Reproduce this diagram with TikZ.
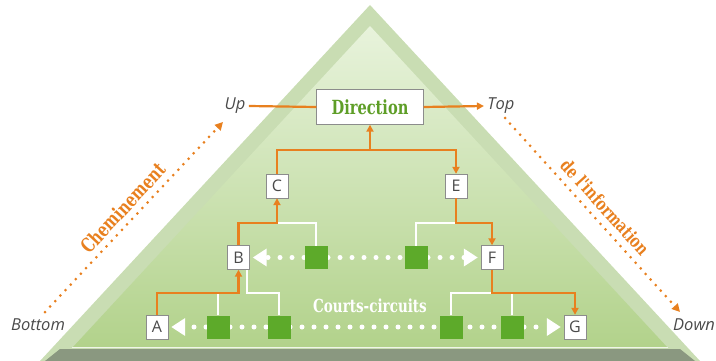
\documentclass[tikz,border=0pt]{standalone}
\usepackage{fontspec}
\setmainfont{Open Sans}
\newfontfamily\slabfont{DejaVu Serif}[FakeStretch=0.75]
\usetikzlibrary{arrows.meta,positioning}
\definecolor{flow}{HTML}{E8801F}
\definecolor{relaygreen}{HTML}{5DAA2A}
\definecolor{dirgreen}{HTML}{5E9E27}
\definecolor{bandgreen}{HTML}{C9DDB3}
\definecolor{filltop}{HTML}{E8F3DC}
\definecolor{fillbot}{HTML}{B2D28B}
\definecolor{basegrey}{HTML}{8A9880}
\definecolor{labelgrey}{HTML}{4A4A4A}
\definecolor{boxgrey}{HTML}{8C8C8C}

\begin{document}
\begin{tikzpicture}[x=1pt, y=-1pt,
  >={Triangle[length=7pt,width=7pt]},
  letter/.style={draw=boxgrey, fill=white, minimum width=22pt, minimum height=24pt,
                 inner sep=0pt, font=\fontsize{16}{16}\selectfont, text=labelgrey},
  relay/.style={fill=relaygreen, minimum size=23pt, inner sep=0pt},
  link/.style={draw=flow, line width=2.2pt},
  wire/.style={draw=white, line width=1.6pt},
  pulse/.style={draw=white, line width=5pt, line cap=round, dash pattern=on 0pt off 12pt},
  trail/.style={draw=flow, line width=3pt, line cap=round, dash pattern=on 0pt off 7.5pt},
  side/.style={font=\itshape\fontsize{16.5}{16.5}\selectfont, text=labelgrey},
  slab/.style={font=\slabfont\bfseries\fontsize{18}{18}\selectfont, text=flow}]
  \useasboundingbox (0,0) rectangle (716,361);

  % pyramid
  \fill[bandgreen] (370,5) -- (40,361) -- (700,361) -- cycle;
  \shade[top color=filltop, bottom color=fillbot] (370,26) -- (73,347) -- (667,347) -- cycle;
  \draw[white!70!bandgreen, line width=1.5pt] (72,347.5) -- (668,347.5);
  \fill[basegrey] (45,361) -- (60,349) -- (680,349) -- (695,361) -- cycle;

  % top
  \node[draw=boxgrey, fill=white, minimum width=107pt, minimum height=35pt,
        font=\slabfont\bfseries\fontsize{19.5}{19.5}\selectfont, text=dirgreen] (direction) at (370,107) {Direction};
  \node[side] (up) at (235,106) {Up};
  \node[side] (top) at (501,106) {Top};
  \node[side] (bottom) at (38,325) {Bottom};
  \node[side] (down) at (694,325) {Down};

  % chain
  \node[letter] (C) at (277,186) {C};
  \node[letter] (E) at (456,186) {E};
  \node[letter] (B) at (238.5,257.5) {B};
  \node[letter] (F) at (492,257.5) {F};
  \node[letter] (A) at (157,327) {A};
  \node[letter] (G) at (575,327) {G};
  \coordinate (lvl1) at (0,293);
  \coordinate (lvl2) at (0,223);
  \coordinate (hub) at (370,150);

  % short circuits
  \draw[pulse] (316,257.5) -- (416,257.5);
  \draw[pulse, -{Triangle[length=14pt,width=17pt]}, shorten >=3pt] (316,257.5) -- (B.east);
  \draw[pulse, -{Triangle[length=14pt,width=17pt]}, shorten >=3pt] (416,257.5) -- (F.west);
  \draw[pulse] (218,327) -- (512,327);
  \draw[pulse, -{Triangle[length=14pt,width=17pt]}, shorten >=3pt] (218,327) -- (A.east);
  \draw[pulse, -{Triangle[length=14pt,width=17pt]}, shorten >=3pt] (512,327) -- (G.west);

  \node[relay] (sB1) at (316,257.5) {};
  \node[relay] (sB2) at (416,257.5) {};
  \node[relay] (sA1) at (218,327) {};
  \node[relay] (sA2) at (279,327) {};
  \node[relay] (sA3) at (451,327) {};
  \node[relay] (sA4) at (512,327) {};

  \draw[wire] (sB1.north) |- (C |- lvl2);
  \draw[wire] (sB2.north) |- (E |- lvl2);
  \draw[wire] (sA1.north) -- (sA1 |- lvl1);
  \draw[wire] (sA2.north) |- ([xshift=-3pt]B.south east |- lvl1) -- ([xshift=-3pt]B.south east);
  \draw[wire] (sA3.north) |- (F |- lvl1);
  \draw[wire] (sA4.north) -- (sA4 |- lvl1);

  % information path
  \draw[link, ->] (A.north) |- (B |- lvl1) -- (B.south);
  \draw[link, ->] (B.north) |- (C |- lvl2) -- (C.south);
  \draw[link] (C.north) |- (hub);
  \draw[link, ->] (hub) -- (direction.south);
  \draw[link, ->] (hub) -| (E.north);
  \draw[link, ->] (E.south) |- (F |- lvl2) -- (F.north);
  \draw[link, ->] (F.south) |- (G |- lvl1) -- (G.north);
  \draw[link] (up.east) -- (direction.west);
  \draw[link, ->] (direction.east) -- (top.west);

  \node[font=\slabfont\bfseries\fontsize{18}{18}\selectfont, text=white] (courts) at (370,306) {Courts-circuits};

  % outside
  \coordinate (climbA) at (45,312);
  \coordinate (climbB) at (223,122);
  \coordinate (fallA) at (505,118);
  \coordinate (fallB) at (680,312);
  \draw[trail, -{Triangle[length=8pt,width=8pt]}] (climbA) -- (climbB);
  \draw[trail, -{Triangle[length=8pt,width=8pt]}] (fallA) -- (fallB);
  \node[slab, font=\slabfont\bfseries\fontsize{19.5}{19.5}\selectfont, rotate=47] (chem) at (123,208) {Cheminement};
  \node[slab, rotate=-48] (info) at (605,207) {de l'information};
\end{tikzpicture}
\end{document}
